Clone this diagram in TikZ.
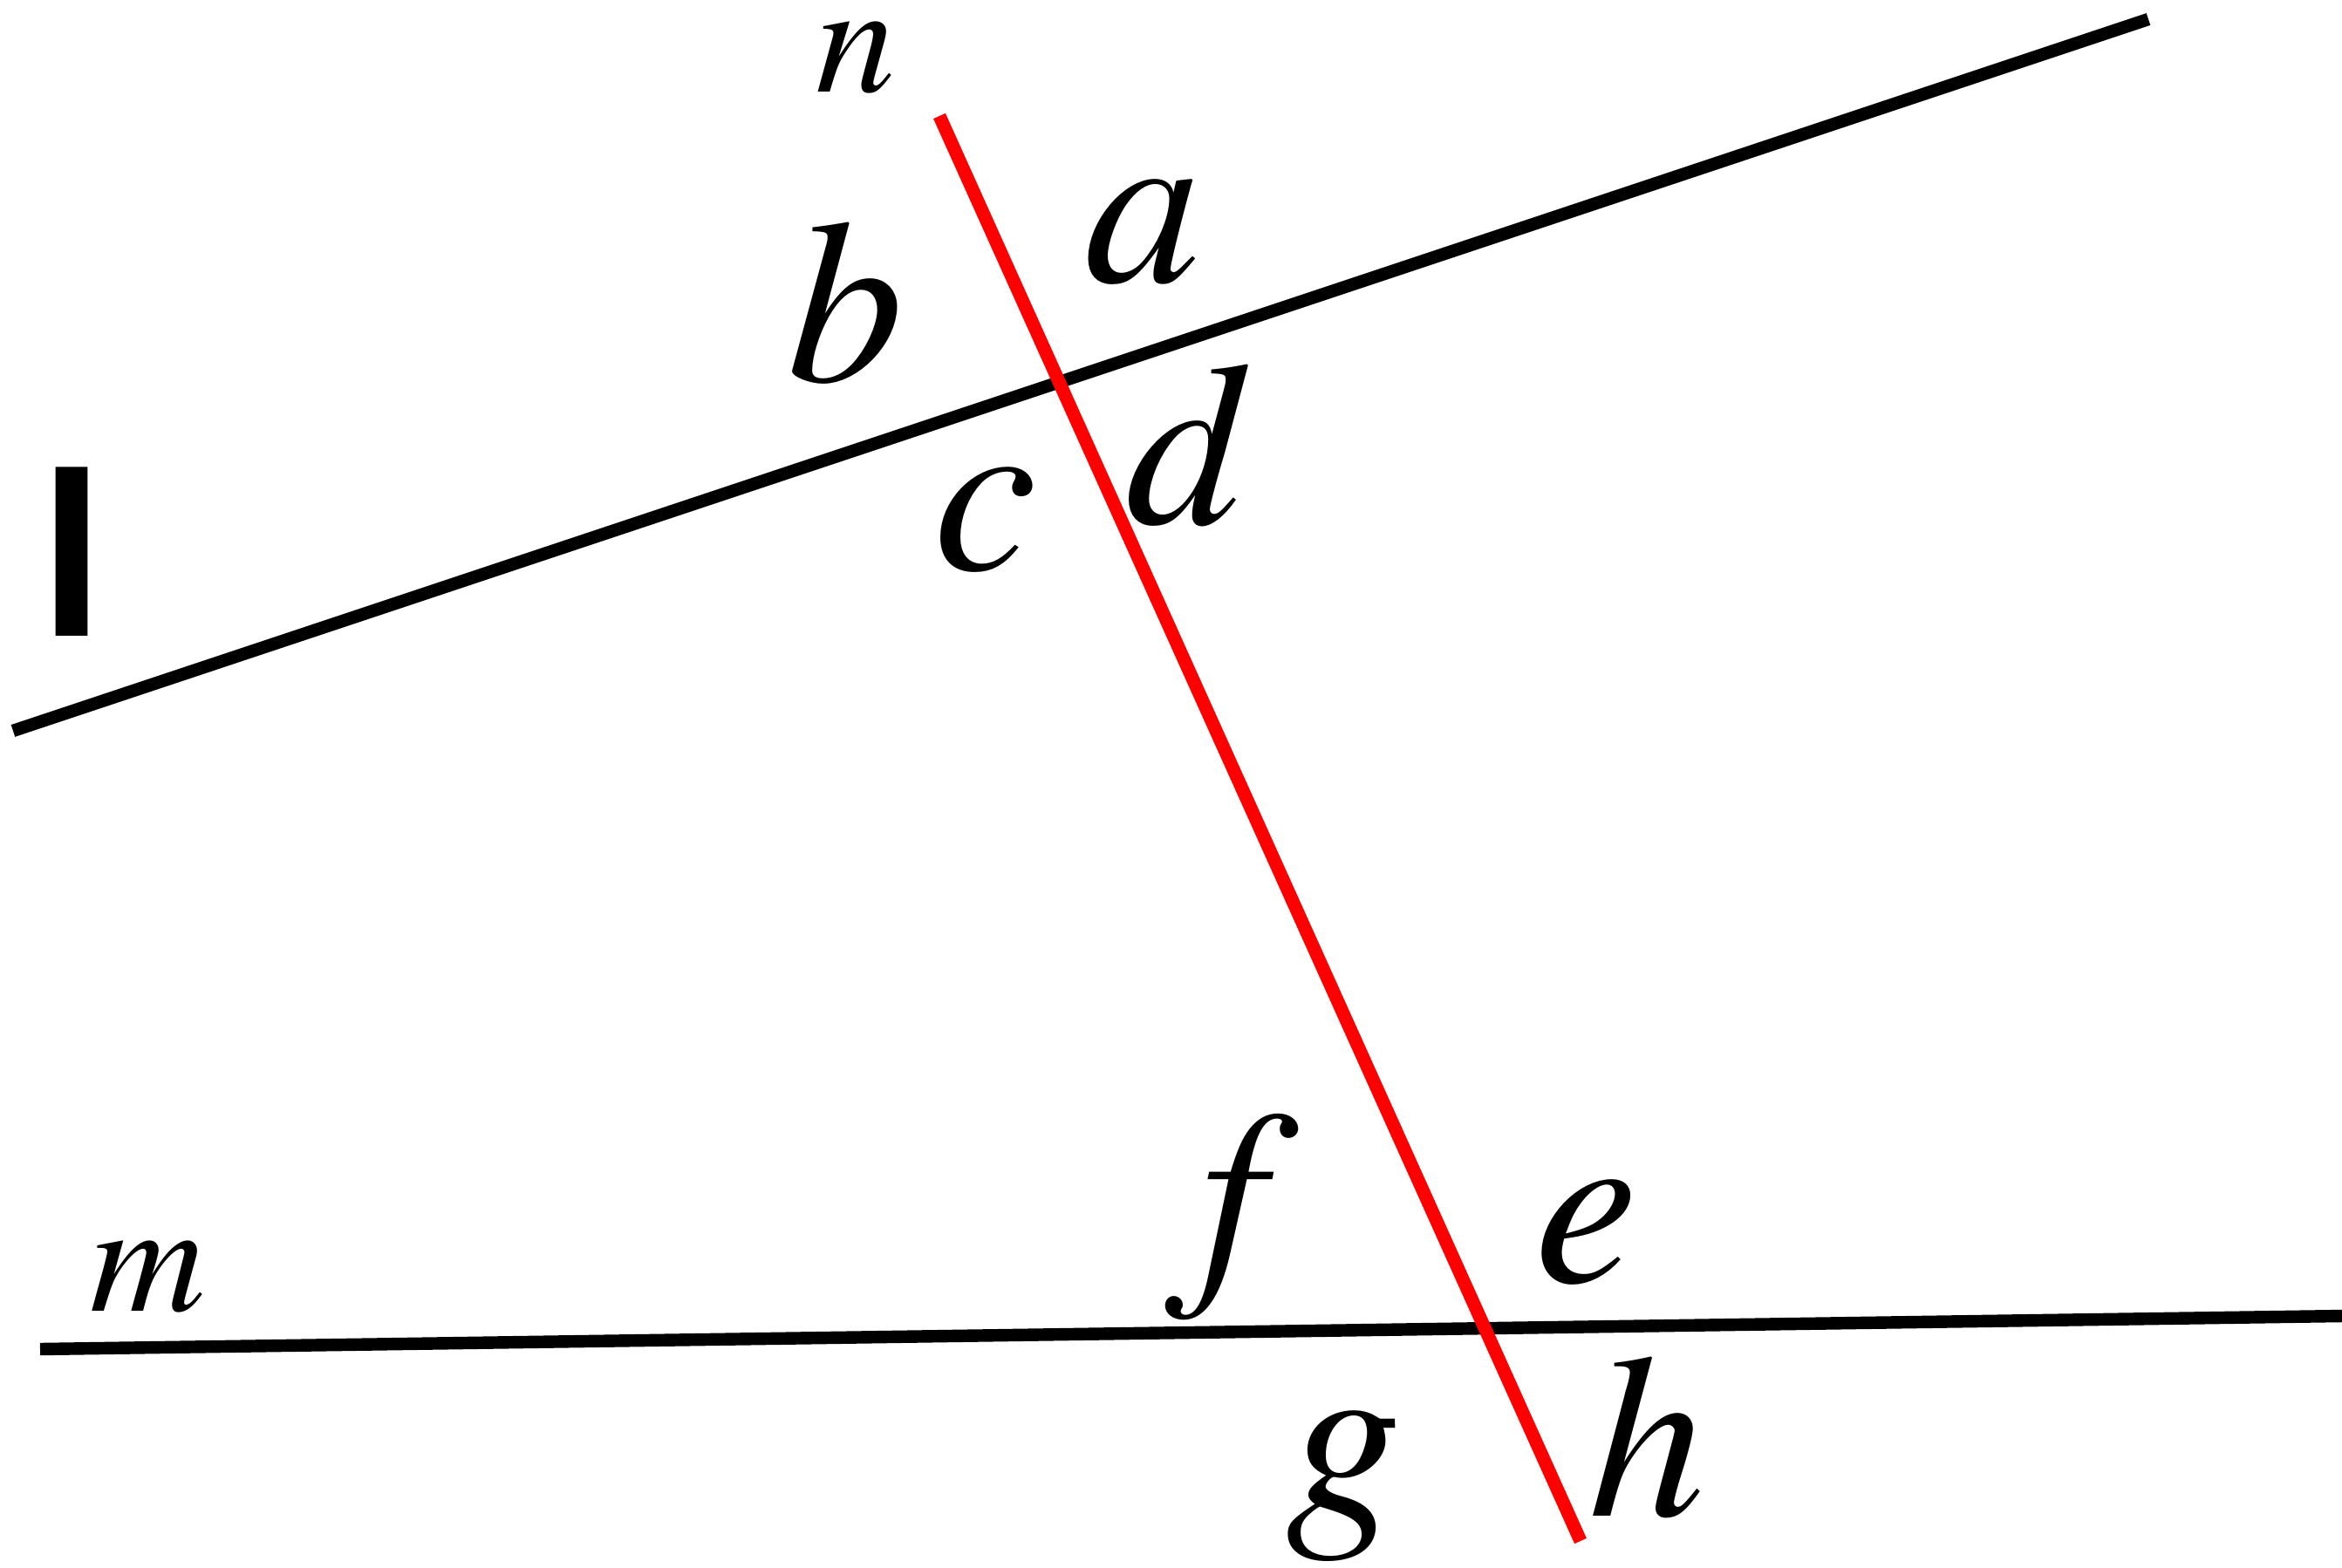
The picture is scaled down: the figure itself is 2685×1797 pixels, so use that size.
\documentclass[tikz,border=0pt]{standalone}
\usepackage{fontspec}
\setmainfont{Liberation Serif}
\newfontfamily\labelsans{Liberation Sans}
\newfontfamily\labelserif{texgyretermes-italic.otf}
\usepackage{tikz}
\usepackage{xcolor}

\begin{document}
\begin{tikzpicture}[
  x=0.01cm, y=-0.01cm,
  line/.style={line width=4.1pt},
  transversal/.style={line width=4.3pt, red},
  angle/.style={inner sep=0pt, font=\fontsize{76}{80}\selectfont\labelserif},
  linename/.style={inner sep=0pt, font=\fontsize{52}{56}\selectfont\labelserif},
]
\useasboundingbox (0,0) rectangle (2685,1797);

\coordinate (l1) at (15,838);
\coordinate (l2) at (2463,22);
\coordinate (m1) at (46,1547);
\coordinate (m2) at (2685,1509);
\coordinate (n1) at (1077,133);
\coordinate (n2) at (1812,1767);

\draw[line] (l1) -- (l2);
\draw[line] (m1) -- (m2);
\draw[transversal] (n1) -- (n2);

\node[inner sep=0pt, font=\fontsize{76}{80}\selectfont\labelsans\bfseries] (lname) at (83,633) {l};
\node[linename] (mname) at (170,1464) {m};
\node[linename] (nname) at (981,66) {n};

\node[angle] (a) at (1310,266) {a};
\node[angle] (b) at (969,348) {b};
\node[angle] (c) at (1130,596) {c};
\node[angle] (d) at (1357,511) {d};
\node[angle] (f) at (1413,1396) {f};
\node[angle] (e) at (1819,1413) {e};
\node[angle] (g) at (1541,1704) {g};
\node[angle] (h) at (1888,1648) {h};
\end{tikzpicture}
\end{document}
